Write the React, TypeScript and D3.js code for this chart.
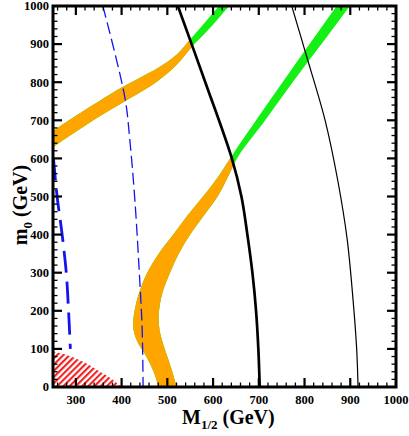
import React from 'react';
import * as d3 from 'd3';

// axis ticks
const xTickValues = [300, 400, 500, 600, 700, 800, 900, 1000];
const yTickValues = [0, 100, 200, 300, 400, 500, 600, 700, 800, 900, 1000];

// lower band (indexed by m0): left / right edge in M_1/2
const lowerM0 = [-20, 0, 40, 80, 120, 150, 180, 210, 250, 300, 350, 400, 450, 500, 550, 605, 700, 800, 900, 1000, 1040];
const lowerLeft = [487, 481, 470, 454, 434, 426, 426, 430, 439, 456, 481, 513, 544, 578, 610, 640, 694, 752, 811, 870, 893];
const lowerRight = [531, 521, 511, 500, 489, 483, 481, 483, 490, 506, 525, 550, 580, 610, 632, 655, 714, 774, 837, 899, 923];

// upper band (indexed by M_1/2): low / high edge in m0
const upperM = [240, 250, 300, 353, 400, 440, 480, 520, 554, 590, 630, 650];
const upperLow = [622, 630, 670, 711, 745, 773, 804, 845, 893, 938, 993, 1020];
const upperHigh = [664, 672, 712, 752, 786, 812, 838, 872, 918, 968, 1023, 1050];

// thick black line
const thickM0 = [1000, 800, 600, 500, 400, 300, 200, 100, 0];
const thickM = [523, 583, 641, 662, 675, 686, 694, 699, 702];

// thin black line
const thinM0 = [1000, 870, 700, 540, 390, 230, 100, 0];
const thinM = [772, 804, 845, 873, 893, 906, 914, 917];

// thin blue dashed
const blueThinM0 = [1000, 761, 648, 491, 273, 150, 0];
const blueThinM = [359, 407, 418, 429, 440, 445, 447];

// thick blue dashed
const blueThickM0 = [600, 500, 400, 300, 200, 100];
const blueThickM = [251, 259, 270, 279, 284, 288];

// red hatched region (top boundary)
const redM = [250, 280, 316, 353, 380, 400];
const redM0 = [93, 84, 66, 40, 20, 0];

const ORANGE = '#ffa500';
const GREEN = '#14f014';
const BLUE = '#1414f0';
const FONT = "'Liberation Serif', 'Times New Roman', serif";

const App = () => {
  const x = d3.scaleLinear().domain([250, 1000]).range([53, 396]);
  const y = d3.scaleLinear().domain([0, 1000]).range([387, 6]);
  const [x0, x1] = x.range();
  const [yb, yt] = y.range();

  const idx = (n: number) => d3.range(n);

  const lowerArea = d3
    .area<number>()
    .y(i => y(lowerM0[i]))
    .x0(i => x(lowerLeft[i]))
    .x1(i => x(lowerRight[i]))
    .curve(d3.curveCatmullRom)(idx(lowerM0.length));

  const upperArea = d3
    .area<number>()
    .x(i => x(upperM[i]))
    .y0(i => y(upperLow[i]))
    .y1(i => y(upperHigh[i]))
    .curve(d3.curveCatmullRom)(idx(upperM.length));

  const lineOf = (ms: number[], m0s: number[]) =>
    d3
      .line<number>()
      .x(i => x(ms[i]))
      .y(i => y(m0s[i]))
      .curve(d3.curveCatmullRom)(idx(ms.length));

  const thickPath = lineOf(thickM, thickM0);
  const thinPath = lineOf(thinM, thinM0);
  const blueThinPath = lineOf(blueThinM, blueThinM0);
  const blueThickPath = lineOf(blueThickM, blueThickM0);

  // region left of the thick black line (orange part of the bands)
  const leftClip =
    thickPath +
    `L${x(thickM[thickM.length - 1])},${y(-100)}L${x(150)},${y(-100)}L${x(150)},${y(1100)}L${x(thickM[0])},${y(1100)}Z`;

  const redPath =
    d3
      .line<number>()
      .x(i => x(redM[i]))
      .y(i => y(redM0[i]))
      .curve(d3.curveCatmullRom)(idx(redM.length)) +
    `L${x(250)},${y(0)}Z`;

  const xMinor = d3.range(260, 1000, 20).filter(v => v % 100 !== 0);
  const yMinor = d3.range(20, 1000, 20).filter(v => v % 100 !== 0);
  const xMajor = d3.range(300, 1000, 100);
  const yMajor = d3.range(100, 1000, 100);
  const MAJ = 9;
  const MIN = 4.5;

  return (
    <svg
      width={409}
      height={436}
      style={{ position: 'absolute', left: 0, top: 0, background: '#fff' }}
      fontFamily={FONT}
      fontWeight="bold"
    >
      <defs>
        <clipPath id="plot">
          <rect x={x0} y={yt} width={x1 - x0} height={yb - yt} />
        </clipPath>
        <clipPath id="leftOfThick">
          <path d={leftClip} />
        </clipPath>
        <pattern
          id="hatch"
          patternUnits="userSpaceOnUse"
          width={4.4}
          height={4.4}
          patternTransform="rotate(45)"
        >
          <line x1={1.1} y1={0} x2={1.1} y2={4.4} stroke="#ee1515" strokeWidth={2} />
        </pattern>
      </defs>

      <g clipPath="url(#plot)">
        {/* bands: green everywhere, orange left of the thick line */}
        <path d={lowerArea ?? ''} fill={GREEN} />
        <path d={upperArea ?? ''} fill={GREEN} />
        <g clipPath="url(#leftOfThick)">
          <path d={lowerArea ?? ''} fill={ORANGE} />
          <path d={upperArea ?? ''} fill={ORANGE} />
        </g>

        <path d={redPath} fill="url(#hatch)" />

        <path d={blueThickPath ?? ''} fill="none" stroke={BLUE} strokeWidth={2.8} strokeDasharray="22 9" />
        <path d={blueThinPath ?? ''} fill="none" stroke={BLUE} strokeWidth={1.3} strokeDasharray="12 5" />
        <path d={thickPath ?? ''} fill="none" stroke="#000" strokeWidth={2.7} />
        <path d={thinPath ?? ''} fill="none" stroke="#000" strokeWidth={1.2} />
      </g>

      {/* ticks */}
      <g stroke="#000">
        {xMajor.map(v => (
          <g key={'xM' + v} strokeWidth={2.2}>
            <line x1={x(v)} x2={x(v)} y1={yb} y2={yb - MAJ} />
            <line x1={x(v)} x2={x(v)} y1={yt} y2={yt + MAJ} />
          </g>
        ))}
        {xMinor.map(v => (
          <g key={'xm' + v} strokeWidth={1.3}>
            <line x1={x(v)} x2={x(v)} y1={yb} y2={yb - MIN} />
            <line x1={x(v)} x2={x(v)} y1={yt} y2={yt + MIN} />
          </g>
        ))}
        {yMajor.map(v => (
          <g key={'yM' + v} strokeWidth={2.2}>
            <line x1={x0} x2={x0 + MAJ} y1={y(v)} y2={y(v)} />
            <line x1={x1} x2={x1 - MAJ} y1={y(v)} y2={y(v)} />
          </g>
        ))}
        {yMinor.map(v => (
          <g key={'ym' + v} strokeWidth={1.3}>
            <line x1={x0} x2={x0 + MIN} y1={y(v)} y2={y(v)} />
            <line x1={x1} x2={x1 - MIN} y1={y(v)} y2={y(v)} />
          </g>
        ))}
      </g>
      <rect x={x0} y={yt} width={x1 - x0} height={yb - yt} fill="none" stroke="#000" strokeWidth={3} />

      {/* tick labels */}
      {xTickValues.map(v => (
        <text key={'xl' + v} x={x(v)} y={404} fontSize={12.5} textAnchor="middle">
          {v}
        </text>
      ))}
      {yTickValues.map(v => (
        <text key={'yl' + v} x={49} y={y(v)} dy="0.35em" fontSize={12.5} textAnchor="end">
          {v}
        </text>
      ))}

      {/* axis titles */}
      <text x={182} y={424} fontSize={20}>
        M
        <tspan fontSize={13} dy={5}>1/2</tspan>
        <tspan dy={-5}> (GeV)</tspan>
      </text>
      <text transform="translate(27,205) rotate(-90)" fontSize={20} textAnchor="middle">
        m
        <tspan fontSize={13} dy={5}>0</tspan>
        <tspan dy={-5}> (GeV)</tspan>
      </text>
    </svg>
  );
};

export default App;
